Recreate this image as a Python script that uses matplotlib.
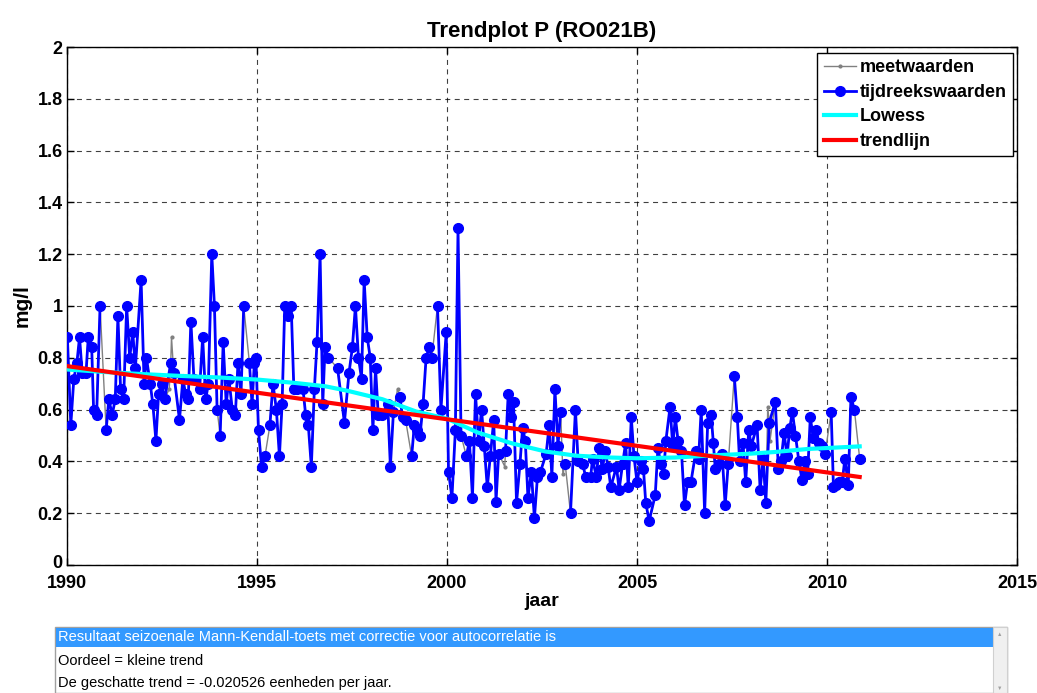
import numpy as np
import matplotlib
matplotlib.use("Agg")
import matplotlib.pyplot as plt
import matplotlib.transforms as mtransforms
from matplotlib.patches import Rectangle

plt.rcParams['font.family'] = ['Liberation Sans', 'DejaVu Sans']

# tijdreekswaarden (nan = gap in the series)
tijd_t = [1990.01, 1990.10, 1990.18, 1990.26, 1990.33, 1990.40, 1990.50, 1990.56, 1990.65, 1990.70,
          1990.78, 1990.87, 1990.95, 1991.03, 1991.10, 1991.19, 1991.27, 1991.34, 1991.41, 1991.49,
          1991.57, 1991.65, 1991.73, 1991.80, 1991.95, 1992.03, 1992.09, 1992.19, 1992.26, 1992.34,
          1992.41, 1992.49, 1992.57, 1992.73, 1992.81, 1992.96, 1993.05, 1993.12, 1993.19, 1993.26,
          1993.34, 1993.49, 1993.57, 1993.65, 1993.72, 1993.81, 1993.88, 1993.95, 1994.00, 1994.03,
          1994.11, 1994.19, 1994.26, 1994.35, 1994.43, 1994.50, 1994.58, 1994.65, 1994.72, 1994.80,
          1994.87, 1994.93, 1994.97, 1995.04, 1995.12, 1995.21, 1995.28, 1995.34, 1995.42, 1995.51,
          1995.59, 1995.66, 1995.73, 1995.82, 1995.90, 1995.97, 1996.05, 1996.21, 1996.28, 1996.35,
          1996.43, 1996.51, 1996.58, 1996.66, 1996.73, 1996.79, 1996.88, 1997.00, 1997.12, 1997.30,
          1997.42, 1997.51, 1997.59, 1997.67, 1997.75, 1997.82, 1997.90, 1997.98, 1998.05, 1998.12,
          1998.19, 1998.28, 1998.44, 1998.51, 1998.59, 1998.68, 1998.76, 1998.83, 1998.91, 1999.00,
          1999.07, 1999.14, 1999.21, 1999.29, 1999.37, 1999.45, 1999.53, 1999.60, 1999.68, 1999.75,
          1999.84, 1999.98, 2000.04, 2000.13, 2000.22, 2000.29, 2000.37, 2000.44, 2000.51, 2000.59,
          2000.67, 2000.75, 2000.83, 2000.91, 2000.98, 2001.06, 2001.14, 2001.23, 2001.29, 2001.36,
          2001.45, 2001.54, 2001.61, 2001.68, 2001.75, 2001.83, 2001.92, 2001.99, 2002.06, 2002.13,
          2002.22, 2002.30, 2002.38, 2002.46, 2002.61, 2002.69, 2002.76, 2002.84, 2002.92, 2002.99,
          2003.05, 2003.11, 2003.18, 2003.25, 2003.38, 2003.45, 2003.57, 2003.65, 2003.78, 2003.83,
          2003.93, 2004.00, 2004.09, 2004.16, 2004.24, 2004.31, 2004.46, 2004.53, 2004.62, 2004.70,
          2004.77, 2004.85, 2004.92, 2005.00, 2005.10, 2005.17, 2005.23, 2005.32, 2005.48, 2005.55,
          2005.63, 2005.70, 2005.76, 2005.87, 2005.94, 2006.01, 2006.08, 2006.17, 2006.25, 2006.33,
          2006.42, 2006.55, 2006.62, 2006.69, 2006.78, 2006.86, 2006.95, 2007.01, 2007.06, 2007.15,
          2007.24, 2007.32, 2007.40, 2007.48, 2007.56, 2007.64, 2007.70, 2007.79, 2007.86, 2007.94,
          2008.01, 2008.16, 2008.24, 2008.32, 2008.39, 2008.48, 2008.64, 2008.72, 2008.79, 2008.87,
          2008.95, 2009.02, 2009.09, 2009.17, 2009.26, 2009.34, 2009.42, 2009.49, 2009.56, 2009.64,
          2009.72, 2009.79, 2009.86, 2009.95, 2010.03, 2010.11, 2010.17, 2010.24, 2010.32, 2010.40,
          2010.47, 2010.56, 2010.63, 2010.72, 2010.79, 2010.86]
nan = np.nan
tijd_v = [0.88, 0.54, 0.72, 0.78, 0.88, 0.74, 0.74, 0.88, 0.84, 0.60,
          0.58, 1.00, nan, 0.52, 0.64, 0.58, 0.64, 0.96, 0.68, 0.64,
          1.00, 0.80, 0.90, 0.76, 1.10, 0.70, 0.80, 0.70, 0.62, 0.48,
          0.66, 0.70, 0.64, 0.78, 0.74, 0.56, 0.72, 0.66, 0.64, 0.94,
          0.72, 0.68, 0.88, 0.64, 0.70, 1.20, 1.00, 0.60, nan, 0.50,
          0.86, 0.62, 0.72, 0.60, 0.58, 0.78, 0.66, 1.00, nan, 0.78,
          0.62, 0.78, 0.80, 0.52, 0.38, 0.42, nan, 0.54, 0.70, 0.60,
          0.42, 0.62, 1.00, 0.96, 1.00, 0.68, 0.68, 0.68, 0.58, 0.54,
          0.38, 0.68, 0.86, 1.20, 0.62, 0.84, 0.80, nan, 0.76, 0.55,
          0.74, 0.84, 1.00, 0.80, 0.72, 1.10, 0.88, 0.80, 0.52, 0.76,
          0.58, 0.58, 0.62, 0.38, 0.59, nan, 0.65, 0.57, 0.56, nan,
          0.42, 0.54, 0.52, 0.50, 0.62, 0.80, 0.84, 0.80, nan, 1.00,
          0.60, 0.90, 0.36, 0.26, 0.52, 1.30, 0.50, nan, 0.42, 0.48,
          0.26, 0.66, 0.48, 0.60, 0.46, 0.30, 0.42, 0.56, 0.245, 0.43,
          nan, 0.44, 0.66, 0.57, 0.63, 0.24, 0.39, 0.53, 0.48, 0.26,
          0.36, 0.18, 0.34, 0.36, 0.43, 0.54, 0.34, 0.68, 0.46, 0.59,
          nan, 0.39, nan, 0.20, 0.60, 0.40, 0.39, 0.34, 0.34, 0.41,
          0.34, 0.45, 0.37, 0.44, 0.38, 0.30, 0.38, 0.29, 0.39, 0.47,
          0.30, 0.57, 0.42, 0.32, 0.40, 0.37, 0.24, 0.17, 0.27, 0.45,
          0.39, 0.35, 0.48, 0.61, 0.46, 0.57, 0.48, 0.44, 0.23, 0.32,
          0.32, 0.44, 0.41, 0.60, 0.20, 0.55, 0.58, 0.47, 0.37, 0.39,
          0.43, 0.23, 0.39, nan, 0.73, 0.57, 0.40, 0.47, 0.32, 0.52,
          0.46, 0.54, 0.29, 0.41, 0.24, 0.55, 0.63, 0.37, 0.40, 0.51,
          0.42, 0.53, 0.59, 0.50, 0.40, 0.33, 0.40, 0.35, 0.57, 0.49,
          0.52, 0.47, 0.46, 0.43, nan, 0.59, 0.30, 0.31, 0.32, 0.32,
          0.41, 0.31, 0.65, 0.60, nan, 0.41]

# extra raw measurements (meetwaarden) that differ from the series
extra_t = [1992.69, 1992.75, 1998.70, 2001.52, 2003.05, 2008.44, 2008.50]
extra_v = [0.68, 0.88, 0.68, 0.38, 0.35, 0.61, 0.48]

# Lowess curve
lowess_t = [1990.0, 1991.0, 1992.0, 1993.0, 1994.0, 1995.0, 1996.0, 1996.8, 1997.4, 1998.3,
            1999.2, 2000.0, 2000.8, 2001.7, 2002.6, 2003.4, 2004.3, 2005.0, 2006.0, 2007.1,
            2008.0, 2008.6, 2009.5, 2010.86]
lowess_v = [0.755, 0.745, 0.737, 0.730, 0.724, 0.716, 0.703, 0.690, 0.672, 0.640,
            0.592, 0.565, 0.512, 0.470, 0.438, 0.422, 0.415, 0.412, 0.415, 0.424,
            0.430, 0.436, 0.448, 0.458]

# trend line
trend_start, trend_end = 1990.0, 2010.86
trend_level = 0.768
trend_slope = -0.020526

result_lines = ["Resultaat seizoenale Mann-Kendall-toets met correctie voor autocorrelatie is",
                "Oordeel = kleine trend",
                "De geschatte trend = -0.020526 eenheden per jaar."]

tt = np.array(tijd_t)
tv = np.array(tijd_v)
ok = ~np.isnan(tv)
meet_t = np.concatenate([tt[ok], extra_t])
meet_v = np.concatenate([tv[ok], extra_v])
order = np.argsort(meet_t)
meet_t = meet_t[order]
meet_v = meet_v[order]

W, H = 1037, 693
fig = plt.figure(figsize=(W / 100, H / 100), dpi=100)
ax = fig.add_axes([67 / W, (H - 565) / H, 950 / W, 518 / H])

ax.plot(meet_t, meet_v, color='#808080', lw=1, marker='.', ms=4, label='meetwaarden', zorder=3)
ax.plot(tt, tv, color='#0000ff', lw=2, marker='o', ms=7, label='tijdreekswaarden', zorder=4)
ax.plot(lowess_t, lowess_v, color='cyan', lw=3, label='Lowess', zorder=5)
tr = np.array([trend_start, trend_end])
ax.plot(tr, trend_level + trend_slope * (tr - trend_start), color='red', lw=3,
        label='trendlijn', zorder=6)

ax.set_xlim(1990, 2015)
ax.set_ylim(0, 2)
ax.set_xticks(np.arange(1990, 2016, 5))
yt = np.arange(0, 2.01, 0.2)
ax.set_yticks(yt)
ax.set_yticklabels([f"{v:g}" for v in np.round(yt, 1)])
ax.grid(True, color='black', linestyle=(0, (4.5, 4)), lw=0.8, alpha=0.75)
ax.set_axisbelow(True)
ax.tick_params(direction='in', length=5, top=True, right=True, labelsize=13, width=1)
ax.tick_params(axis='x', pad=7)
ax.tick_params(axis='y', pad=3)
for lb in ax.get_xticklabels() + ax.get_yticklabels():
    lb.set_fontweight('bold')
# lift the "0" label a little so it clears "1990", as in the original
ylabs = ax.get_yticklabels()
ylabs[0].set_transform(ylabs[0].get_transform() +
                       mtransforms.ScaledTranslation(0, 3 / 100, fig.dpi_scale_trans))
for s in ax.spines.values():
    s.set_linewidth(1)

ax.set_title('Trendplot P (RO021B)', fontweight='bold', fontsize=16, pad=7)
ax.set_xlabel('jaar', fontweight='bold', fontsize=14, labelpad=1)
ax.set_ylabel('mg/l', fontweight='bold', fontsize=15, labelpad=4)

leg = ax.legend(loc='upper right', bbox_to_anchor=(0.9958, 0.9884), borderaxespad=0,
                fancybox=False, framealpha=1, edgecolor='black',
                prop={'weight': 'bold', 'size': 13}, handlelength=1.8,
                handletextpad=0.2, labelspacing=0.42, borderpad=0.35)
leg.get_frame().set_linewidth(1)

# result box at the bottom
def fx(px):
    return px / W

def fy(py):
    return (H - py) / H

fig.patches.append(Rectangle((fx(55), fy(693)), fx(952), 66 / H, transform=fig.transFigure,
                             facecolor='white', edgecolor='#a0a0a0', lw=1))
fig.patches.append(Rectangle((fx(56), fy(647)), fx(937), 19 / H, transform=fig.transFigure,
                             facecolor='#3399ff', edgecolor='none'))
fig.patches.append(Rectangle((fx(993), fy(693)), fx(14), 66 / H, transform=fig.transFigure,
                             facecolor='#f0f0f0', edgecolor='#d0d0d0', lw=0.8))
fig.text(fx(1000), fy(634), '▲', fontsize=4, color='#a0a0a0', ha='center', va='center')
fig.text(fx(1000), fy(688), '▼', fontsize=4, color='#a0a0a0', ha='center', va='center')

row_y = [637, 661, 683]
row_c = ['white', 'black', 'black']
for txt, yy, cc in zip(result_lines, row_y, row_c):
    fig.text(fx(58), fy(yy), txt, fontsize=10.5, color=cc, ha='left', va='center')

fig.savefig('out.png', dpi=100)
